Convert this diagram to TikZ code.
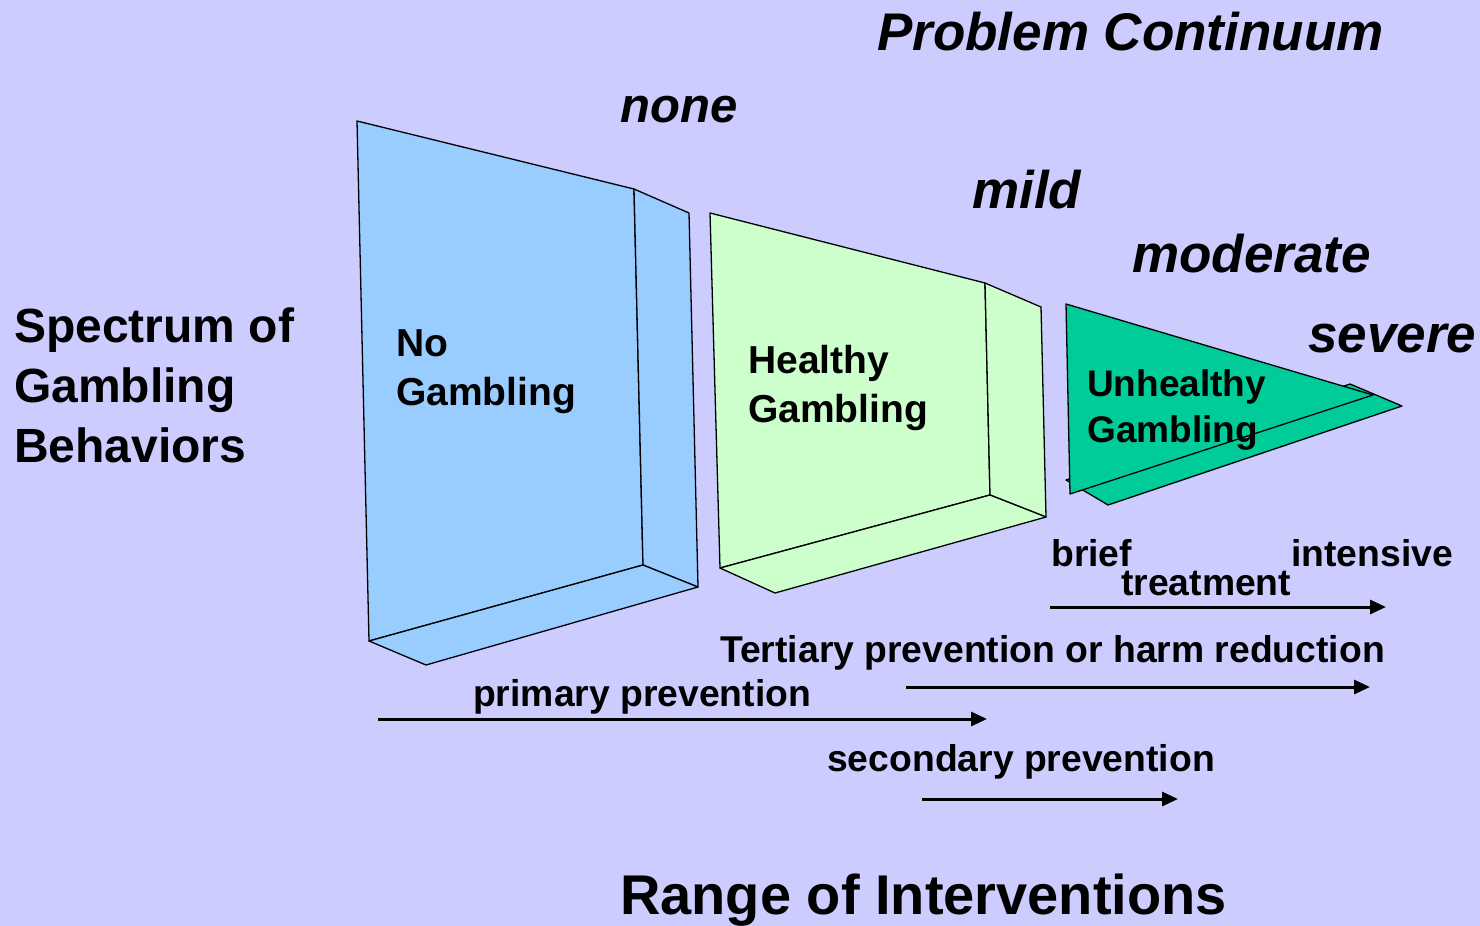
\documentclass[tikz,border=0pt]{standalone}
\usepackage{fontspec}
\setmainfont{Liberation Sans}
\usepackage{xcolor}
\usetikzlibrary{arrows.meta}
\definecolor{lavendel}{HTML}{CCCCFF}
\definecolor{hellblau}{HTML}{99CCFF}
\definecolor{hellgruen}{HTML}{CCFFCC}
\definecolor{tuerkis}{HTML}{00CC99}
\newcommand{\schrift}[1]{\fontsize{#1}{1.25\dimexpr #1pt\relax}\selectfont\bfseries}

\begin{document}
\begin{tikzpicture}[x=1pt,y=-1pt,
  rand/.style={draw=black,line width=1.3pt,line join=round},
  stufe/.style={anchor=base west,inner sep=0,font=\schrift{53}\itshape},
  massnahme/.style={anchor=base west,inner sep=0,font=\schrift{37.3}},
  kasten/.style={anchor=west,align=left,inner sep=0},
  pfeil/.style={line width=3pt,-{Triangle[length=16pt,width=14pt]}}]
  \fill[lavendel] (0,0) rectangle (1480,926);
  \useasboundingbox (0,0) rectangle (1480,926);
  % Kasten: keine Spielsucht
  \filldraw[rand,fill=hellblau] (357,121) -- (634,189) -- (643,565) -- (369,641) -- cycle;
  \filldraw[rand,fill=hellblau] (634,189) -- (689,213) -- (698,587) -- (643,565) -- cycle;
  \filldraw[rand,fill=hellblau] (369,641) -- (643,565) -- (698,587) -- (426,665) -- cycle;
  % Kasten: gesund
  \filldraw[rand,fill=hellgruen] (710,213) -- (985,283) -- (990,495) -- (720,568) -- cycle;
  \filldraw[rand,fill=hellgruen] (985,283) -- (1041,307) -- (1046,517) -- (990,495) -- cycle;
  \filldraw[rand,fill=hellgruen] (720,568) -- (990,495) -- (1046,517) -- (775,593) -- cycle;
  % Dreieck: ungesund
  \filldraw[rand,fill=tuerkis] (1066,480) -- (1350,384) -- (1402,406) -- (1108,505) -- cycle;
  \filldraw[rand,fill=tuerkis] (1066,304) -- (1373,395) -- (1070,494) -- cycle;

  \node[stufe] (kontinuum) at (877,50) {Problem Continuum};
  \node[stufe,font=\schrift{49}\itshape] (keine) at (620,122) {none};
  \node[stufe] (leicht) at (972,208) {mild};
  \node[stufe] (mittel) at (1132,272) {moderate};
  \node[stufe] (schwer) at (1308,352) {severe};

  \node[kasten,font=\schrift{48}] (spektrum) at (14,385) {Spectrum of\\Gambling\\Behaviors};
  \node[kasten,font=\schrift{39}] (nicht) at (396,372) {No\\Gambling};
  \node[kasten,font=\schrift{39}] (gesund) at (748,388) {Healthy\\Gambling};
  \node[kasten,font=\schrift{37}] (ungesund) at (1087,410) {Unhealthy\\Gambling};

  \node[massnahme] (kurz) at (1051,566) {brief};
  \node[massnahme] (intensiv) at (1291,566) {intensive};
  \node[massnahme] (behandlung) at (1121,595) {treatment};
  \node[massnahme] (tertiaer) at (720,662) {Tertiary prevention or harm reduction};
  \node[massnahme] (primaer) at (473,706) {primary prevention};
  \node[massnahme] (sekundaer) at (827,771) {secondary prevention};
  \node[anchor=base west,inner sep=0,font=\schrift{56}] (bereich) at (620,914) {Range of Interventions};

  \coordinate (behandlung-a) at (1050,607);
  \coordinate (behandlung-b) at (1386,607);
  \coordinate (tertiaer-a) at (906,687);
  \coordinate (tertiaer-b) at (1370,687);
  \coordinate (primaer-a) at (378,719);
  \coordinate (primaer-b) at (987,719);
  \coordinate (sekundaer-a) at (922,799);
  \coordinate (sekundaer-b) at (1178,799);
  \draw[pfeil] (behandlung-a) -- (behandlung-b);
  \draw[pfeil] (tertiaer-a) -- (tertiaer-b);
  \draw[pfeil] (primaer-a) -- (primaer-b);
  \draw[pfeil] (sekundaer-a) -- (sekundaer-b);
\end{tikzpicture}
\end{document}
